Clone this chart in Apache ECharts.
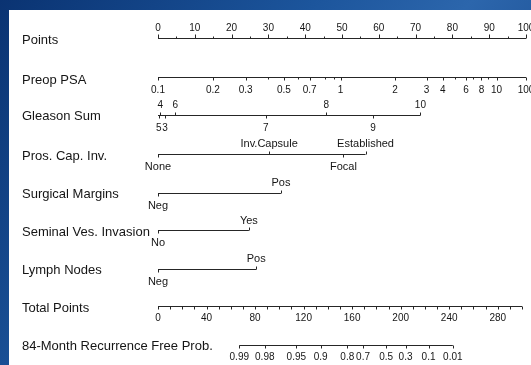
<!DOCTYPE html>
<html><head><meta charset="utf-8">
<script src="https://cdn.jsdelivr.net/npm/echarts@6/dist/echarts.min.js"></script>
<style>
html,body{margin:0;padding:0;width:531px;height:365px;overflow:hidden;
 background:linear-gradient(125deg,#0a3372 0%,#1c559c 40%,#2c66ac 60%,#113f82 100%);}
#panel{position:absolute;left:9px;top:10px;width:522px;height:355px;background:#fff;}
#chart{position:absolute;left:0;top:0;width:531px;height:365px;}
</style></head><body><div id="panel"></div><div id="chart"></div>
<script>
// ---------------- data ----------------
const rowTitles = ['Points','Preop PSA','Gleason Sum','Pros. Cap. Inv.','Surgical Margins',
  'Seminal Ves. Invasion','Lymph Nodes','Total Points','84-Month Recurrence Free Prob.'];

const pointsMajor = [0,10,20,30,40,50,60,70,80,90,100];
const pointsMinor = [5,15,25,35,45,55,65,75,85,95];

const psaLabels = ['0.1','0.2','0.3','0.5','0.7','1','2','3','4','6','8','10','100'];
const psaPoints = [0,14.9,23.8,34.2,41.2,49.6,64.4,73.0,77.4,83.7,87.9,92.0,100];
const psaMinorPoints = [29.9,38.0,45.3,47.7,80.6,85.6,89.7]; // 0.4 0.6 0.8 0.9 5 7 9

const gleasonLabels = ['5','4','3','6','7','8','9','10'];
const gleasonPoints = [0.2,0.6,1.9,4.7,29.3,45.7,58.4,71.3];

const capLabels = ['None','Inv.Capsule','Focal','Established'];
const capPoints = [0,30.2,50.4,56.4];

const marginLabels = ['Neg','Pos'];
const marginPoints = [0,33.4];

const sviLabels = ['No','Yes'];
const sviPoints = [0,24.7];

const lymphLabels = ['Neg','Pos'];
const lymphPoints = [0,26.7];

const totalTicks = [0,10,20,30,40,50,60,70,80,90,100,110,120,130,140,150,160,170,180,190,200,
  210,220,230,240,250,260,270,280,290,300];
const totalLabels = [0,40,80,120,160,200,240,280];

const probLabels = ['0.99','0.98','0.95','0.9','0.8','0.7','0.5','0.3','0.1','0.01'];
const probTotals = [67,88,114,134,156,169,188,204,223,243];

// ---------------- layout / style ----------------
const LAYOUT = {
  rowY:   [38,77,115,153.5,192.5,230,268.5,305.5,344.5],
  titleY: [40.5,80,116.5,156,194,232,270,308,346.5],
  titleX: 22, above: -9.5, below: 13
};
const LINE = '#262626', TEXT = '#151515';
const FONT_NUM = '10px "Liberation Sans", Arial, sans-serif';
const FONT_WORD = '11px "Liberation Sans", Arial, sans-serif';
const FONT_TITLE = '13px "Liberation Sans", Arial, sans-serif';
const gleasonSide = {'5':'down','4':'up','3':'down','6':'up','7':'down','8':'up','9':'down','10':'up'};
const capSide = {'None':'down','Inv.Capsule':'up','Focal':'down','Established':'up'};
const binSide = {'Neg':'down','No':'down','Pos':'up','Yes':'up'};

const crisp = v => Math.round(v) + 0.5;

function baseline(axis, row, from, to) {
  const y = LAYOUT.rowY[row];
  return {type:'custom', xAxisIndex:axis, yAxisIndex:axis, clip:false, silent:true,
    data:[[from, to]],
    renderItem(params, api) {
      const a = api.coord([api.value(0), y]), b = api.coord([api.value(1), y]);
      return {type:'line', shape:{x1:a[0], y1:crisp(a[1]), x2:b[0], y2:crisp(b[1])},
        style:{stroke:LINE, lineWidth:1}};
    }};
}
function ticks(axis, row, values, labels, sideOf, len, font) {
  const y = LAYOUT.rowY[row];
  return {type:'custom', xAxisIndex:axis, yAxisIndex:axis, clip:false, silent:true,
    data: values.map((v, i) => [v, i]),
    renderItem(params, api) {
      const i = api.value(1);
      const p = api.coord([api.value(0), y]);
      const lab = labels ? labels[i] : '';
      const side = typeof sideOf === 'function' ? sideOf(lab) : sideOf;
      const dir = side === 'up' ? -1 : 1;
      const x = crisp(p[0]), yy = crisp(p[1]);
      const children = [{type:'line', shape:{x1:x, y1:yy, x2:x, y2:yy + dir*len},
        style:{stroke:LINE, lineWidth:1}}];
      if (lab !== '' && lab != null) {
        children.push({type:'text', style:{text:String(lab), x:p[0],
          y:p[1] + (side === 'up' ? LAYOUT.above : LAYOUT.below),
          align:'center', verticalAlign:'middle', textAlign:'center', textVerticalAlign:'middle',
          font:font, fill:TEXT}});
      }
      return {type:'group', children};
    }};
}

const series = [
  baseline(0,0,0,100),
  ticks(0,0,pointsMajor,pointsMajor.map(String),'up',4,FONT_NUM),
  ticks(0,0,pointsMinor,null,'up',2,FONT_NUM),
  baseline(0,1,psaPoints[0],psaPoints[psaPoints.length-1]),
  ticks(0,1,psaPoints,psaLabels,'down',3,FONT_NUM),
  ticks(0,1,psaMinorPoints,null,'down',2,FONT_NUM),
  baseline(0,2,0,gleasonPoints[gleasonPoints.length-1]),
  ticks(0,2,gleasonPoints,gleasonLabels,l => gleasonSide[l],3,FONT_NUM),
  baseline(0,3,capPoints[0],Math.max(...capPoints)),
  ticks(0,3,capPoints,capLabels,l => capSide[l],3,FONT_WORD),
  baseline(0,4,marginPoints[0],marginPoints[1]),
  ticks(0,4,marginPoints,marginLabels,l => binSide[l],3,FONT_WORD),
  baseline(0,5,sviPoints[0],sviPoints[1]),
  ticks(0,5,sviPoints,sviLabels,l => binSide[l],3,FONT_WORD),
  baseline(0,6,lymphPoints[0],lymphPoints[1]),
  ticks(0,6,lymphPoints,lymphLabels,l => binSide[l],3,FONT_WORD),
  baseline(1,7,totalTicks[0],totalTicks[totalTicks.length-1]),
  ticks(1,7,totalTicks,totalTicks.map(v => totalLabels.includes(v) ? String(v) : ''),'down',3,FONT_NUM),
  baseline(1,8,probTotals[0],probTotals[probTotals.length-1]),
  ticks(1,8,probTotals,probLabels,'down',3,FONT_NUM)
];

const chart = echarts.init(document.getElementById('chart'), null, {renderer:'canvas'});
chart.setOption({
  animation:false,
  backgroundColor:'transparent',
  grid:[
    {left:158, right:5, top:0, bottom:0},
    {left:158, right:9, top:0, bottom:0}
  ],
  xAxis:[
    {type:'value', gridIndex:0, min:0, max:100, show:false},
    {type:'value', gridIndex:1, min:0, max:300, show:false}
  ],
  yAxis:[
    {type:'value', gridIndex:0, min:0, max:365, inverse:true, show:false},
    {type:'value', gridIndex:1, min:0, max:365, inverse:true, show:false}
  ],
  graphic: rowTitles.map((t, i) => ({type:'text', x:LAYOUT.titleX, y:LAYOUT.titleY[i],
    style:{text:t, font:FONT_TITLE, fill:TEXT, verticalAlign:'middle', textVerticalAlign:'middle'}})),
  series
});
</script></body></html>
